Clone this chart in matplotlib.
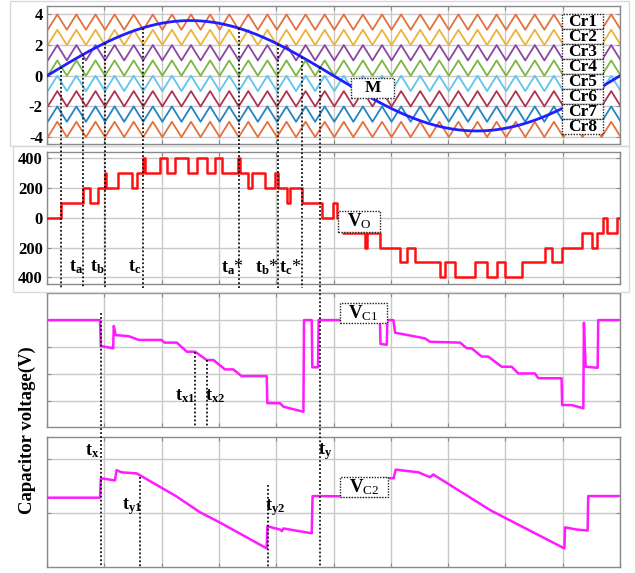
import numpy as np
import matplotlib
matplotlib.use("Agg")
import matplotlib.pyplot as plt
from matplotlib.patches import Rectangle
from matplotlib.lines import Line2D
import matplotlib.transforms as mtransforms

plt.rcParams["font.family"] = ["Liberation Serif", "DejaVu Serif"]
plt.rcParams["mathtext.fontset"] = "custom"
plt.rcParams["mathtext.rm"] = "Liberation Serif"
plt.rcParams["mathtext.bf"] = "Liberation Serif:bold"
plt.rcParams["mathtext.it"] = "Liberation Serif:italic"

# ---------------- data ----------------
T_END = 20.0                      # one fundamental cycle, ms
grid_t = np.arange(0, 21, 2)      # vertical grid every 2 ms

# modulating wave and level-shifted (phase-disposition) carriers
m_amp = 3.6
carrier_ratio = 30
carrier_peak_t = 0.36
carrier_names = ["Cr1", "Cr2", "Cr3", "Cr4", "Cr5", "Cr6", "Cr7", "Cr8"]
carrier_low = [3, 2, 1, 0, -1, -2, -3, -4]
carrier_colors = ["#E4703F", "#EDB23A", "#8C45A2", "#7DB443",
                  "#5EC5EE", "#AE3352", "#2583C6", "#E4703F"]

# output voltage Vo: switching instants (ms) and level held after each
vo_t = [0, 0.49, 1.27, 1.50, 1.79, 2.02, 2.07, 2.49, 2.96, 3.13, 3.36, 3.41,
        3.94, 4.18, 4.47, 4.93, 5.22, 5.57, 5.86, 6.10, 6.68, 6.73, 7.03,
        7.15, 7.61, 7.96, 8.07, 8.37, 8.48, 8.89, 9.59, 9.99, 10.11, 10.34,
        11.10, 11.16, 11.62, 12.32, 12.56, 12.85, 13.72, 13.89, 14.24, 14.94,
        15.35, 15.70, 15.99, 16.57, 17.38, 17.62, 17.97, 18.66, 19.01, 19.19,
        19.42, 19.54, 19.89]
vo_level = [0, 100, 200, 100, 200, 300, 200, 300, 200, 300, 400, 300,
            400, 300, 400, 300, 400, 300, 400, 300, 400, 300, 200,
            300, 200, 300, 200, 100, 200, 100, 0, 100, 0, -100,
            -200, -100, -200, -300, -200, -300, -400, -300, -400, -300,
            -400, -300, -400, -300, -200, -300, -200, -100, -200, -100,
            0, -100, 0]

# capacitor voltage Vc1 (grid units)
vc1_t = [0, 1.85, 1.88, 2.31, 2.33, 2.40, 2.85, 3.20, 4.00, 4.10, 4.53, 4.88,
         5.17, 5.57, 5.81, 6.21, 6.50, 6.79, 7.67, 7.69, 8.13, 8.25, 8.95,
         8.97, 9.24, 9.26, 9.46, 9.48, 11.62, 11.64, 11.86, 11.88, 12.09,
         12.15, 13.19, 13.37, 14.42, 14.65, 14.82, 15.17, 15.40, 15.87,
         16.22, 16.45, 17.03, 17.15, 17.96, 17.98, 18.31, 18.72, 18.74,
         18.80, 19.22, 19.24, 20.0]
vc1_v = [4.0, 4.0, 3.03, 2.95, 3.78, 3.44, 3.40, 3.26, 3.26, 3.16, 3.16, 2.82,
         2.82, 2.51, 2.51, 2.16, 2.16, 1.91, 1.91, 0.90, 0.90, 0.77, 0.58,
         4.0, 4.0, 2.24, 2.24, 4.0, 4.0, 3.11, 3.08, 4.0, 4.0,
         3.53, 3.32, 3.19, 3.16, 2.95, 2.95, 2.64, 2.64, 2.26,
         2.26, 2.01, 2.01, 1.83, 1.83, 0.83, 0.83, 0.71, 3.90,
         2.26, 2.22, 4.0, 4.0]

# capacitor voltage Vc2 (grid units)
vc2_t = [0, 1.85, 1.88, 2.37, 2.43, 2.60, 3.13, 4.50, 5.34, 6.00, 7.67, 7.69,
         8.13, 8.20, 8.25, 9.24, 9.27, 11.74, 11.76, 12.10, 12.17, 12.96,
         13.37, 13.48, 15.5, 18.06, 18.08, 18.49, 18.87, 18.89, 20.0]
vc2_v = [1.29, 1.29, 1.65, 1.61, 1.80, 1.76, 1.74, 1.32, 1.02, 0.84, 0.35,
         0.76, 0.70, 0.67, 0.72, 0.63, 1.32, 1.31, 1.65, 1.65, 1.81, 1.76,
         1.67, 1.72, 1.05, 0.35, 0.74, 0.70, 0.68, 1.32, 1.32]

# ---------------- figure ----------------
W, H = 635, 573
fig = plt.figure(figsize=(W / 100, H / 100), dpi=100)


def px_axes(x0, y0, x1, y1):
    return fig.add_axes([x0 / W, 1 - y1 / H, (x1 - x0) / W, (y1 - y0) / H])


# faint frames around the two upper panels
for (x0, y0, x1, y1) in [(10, 1, 629, 145.5), (12.7, 146, 629, 291.7)]:
    fig.add_artist(Rectangle((x0 / W, 1 - y1 / H), (x1 - x0) / W,
                             (y1 - y0) / H, transform=fig.transFigure,
                             facecolor="none", edgecolor="#dadada", lw=1.0))

ax1 = px_axes(47, 6, 620, 144)
ax2 = px_axes(47, 151.7, 620, 284)
ax3 = px_axes(47, 293.3, 620, 427.3)
ax4 = px_axes(47, 436.7, 620, 567.3)

SPINE = "#8a8a8a"
GRID = "#c9c9c9"
for ax in (ax1, ax2, ax3, ax4):
    ax.set_xlim(0, T_END)
    ax.set_xticks(grid_t)
    ax.set_xticklabels([])
    for s in ax.spines.values():
        s.set_color(SPINE)
        s.set_linewidth(1.0)
    ax.grid(True, color=GRID, lw=1.0)
    ax.set_axisbelow(True)
    ax.tick_params(direction="in", length=3, color=SPINE, top=True,
                   right=True, labelsize=12, pad=3)

# panel 1: carriers and modulating wave
ax1.set_ylim(-4.45, 4.55)
ax1.set_yticks([-4, -2, 0, 2, 4])
ax1.set_yticklabels(["-4", "-2", "0", "2", "4"], fontweight="bold")
T = T_END / carrier_ratio
k = np.arange(-2, 2 * carrier_ratio + 4)
ct = carrier_peak_t + k * T / 2
for name, low, col in zip(carrier_names, carrier_low, carrier_colors):
    cv = np.where(k % 2 == 0, low + 1, low)
    ax1.plot(ct, cv, color=col, lw=1.3)
tm = np.linspace(0, T_END, 600)
m_wave = m_amp * np.sin(2 * np.pi * tm / T_END)
ax1.plot(tm, m_wave, color="#1f1fff", lw=2.0, zorder=5)

box_t0, box_t1 = 17.98, 19.41
box_top, box_h = 4.03, 0.98
for i, name in enumerate(carrier_names):
    yt = box_top - i * box_h
    ax1.add_patch(Rectangle((box_t0, yt - box_h), box_t1 - box_t0, box_h,
                            facecolor="white", edgecolor="#222222", lw=1.0,
                            ls=(0, (1, 1)), zorder=8))
    ax1.text((box_t0 + box_t1) / 2, yt - box_h / 2 - 0.04, name,
             ha="center", va="center", fontsize=12.5, fontweight="bold",
             zorder=9)

ax1.add_patch(Rectangle((10.61, -1.43), 1.50, 1.30, facecolor="white",
                        edgecolor="#222222", lw=1.0, ls=(0, (1, 1)), zorder=8))
ax1.text(11.36, -0.78, "M", ha="center", va="center", fontsize=12.5,
         fontweight="bold", zorder=9)

# panel 2: output voltage
ax2.set_ylim(-445, 445)
ax2.set_yticks([-400, -200, 0, 200, 400])
ax2.set_yticklabels(["400", "200", "0", "200", "400"], fontweight="bold")
ax2.step(vo_t + [T_END], vo_level + [vo_level[-1]], where="post",
         color="#ff1010", lw=1.8, zorder=5)
ax2.add_patch(Rectangle((10.16, -95), 1.46, 140, facecolor="white",
                        edgecolor="#222222", lw=1.0, ls=(0, (1, 1)), zorder=8))
ax2.text(10.89, -25, r"$\mathbf{V}_{\mathrm{O}}$", ha="center", va="center",
         fontsize=13.5, zorder=9)

# panel 3: Vc1
ax3.set_ylim(0, 5)
ax3.set_yticks([1, 2, 3, 4])
ax3.set_yticklabels([])
ax3.plot(vc1_t, vc1_v, color="#ff1aff", lw=1.8, zorder=5)
ax3.add_patch(Rectangle((10.23, 3.90), 1.63, 0.75, facecolor="white",
                        edgecolor="#222222", lw=1.0, ls=(0, (1, 1)), zorder=8))
ax3.text(11.05, 4.27, r"$\mathbf{V}_{\mathrm{C1}}$", ha="center",
         va="center", fontsize=13.5, zorder=9)

# panel 4: Vc2
ax4.set_ylim(0, 2.42)
ax4.set_yticks([1, 2])
ax4.set_yticklabels([])
ax4.plot(vc2_t, vc2_v, color="#ff1aff", lw=1.8, zorder=5)
ax4.add_patch(Rectangle((10.23, 1.31), 1.68, 0.37, facecolor="white",
                        edgecolor="#222222", lw=1.0, ls=(0, (1, 1)), zorder=8))
ax4.text(11.07, 1.49, r"$\mathbf{V}_{\mathrm{C2}}$", ha="center",
         va="center", fontsize=13.5, zorder=9)

fig.text(27 / W, 1 - 430 / H, "Capacitor voltage(V)", rotation=90,
         ha="center", va="center", fontsize=13.5, fontweight="bold")


# dotted time markers crossing the panels
def fig_y(ax, y):
    return fig.transFigure.inverted().transform(ax.transData.transform((0, y)))[1]


def marker(t, ax_top, y_top, ax_bot, y_bot):
    tr = mtransforms.blended_transform_factory(ax1.transData, fig.transFigure)
    fig.add_artist(Line2D([t, t], [fig_y(ax_top, y_top), fig_y(ax_bot, y_bot)],
                          transform=tr, color="#111111", lw=1.3,
                          ls=(0, (1, 1.2)), zorder=20))


def m_at(t):
    return m_amp * np.sin(2 * np.pi * t / T_END)


for t in [0.49, 1.27, 2.02, 3.36, 6.70, 8.07, 8.89]:
    marker(t, ax1, m_at(t), ax2, -470)
marker(9.52, ax1, m_at(9.52), ax4, 0)
marker(1.87, ax3, 4.26, ax4, 0)
marker(5.17, ax3, 2.82, ax3, 0)
marker(5.58, ax3, 2.51, ax3, 0)
marker(3.25, ax4, 1.68, ax4, 0)
marker(7.71, ax4, 1.52, ax4, 0)

lab = dict(ha="center", va="center", fontsize=13, zorder=10)
for t, s in [(1.0, "a"), (1.75, "b"), (3.07, "c")]:
    ax2.text(t, -330, r"$\mathbf{t}_{\mathbf{%s}}$" % s, **lab)
for t, s in [(6.46, "a"), (7.68, "b"), (8.48, "c")]:
    ax2.text(t, -330, r"$\mathbf{t}_{\mathbf{%s}}$*" % s, **lab)
ax3.text(4.82, 1.17, r"$\mathbf{t}_{\mathbf{x1}}$", **lab)
ax3.text(5.85, 1.17, r"$\mathbf{t}_{\mathbf{x2}}$", **lab)
ax4.text(1.57, 2.15, r"$\mathbf{t}_{\mathbf{x}}$", **lab)
ax4.text(2.97, 1.13, r"$\mathbf{t}_{\mathbf{y1}}$", **lab)
ax4.text(7.97, 1.10, r"$\mathbf{t}_{\mathbf{y2}}$", **lab)
ax4.text(9.70, 2.15, r"$\mathbf{t}_{\mathbf{y}}$", **lab)

fig.savefig("out.png", dpi=100)
